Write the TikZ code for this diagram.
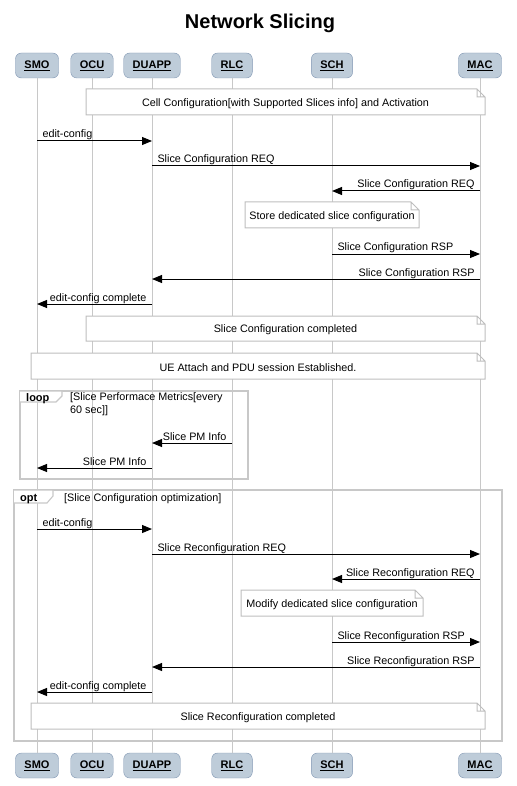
\documentclass[tikz,border=0pt]{standalone}
\usepackage{fontspec}
\setmainfont{Liberation Sans}
\usetikzlibrary{arrows.meta}
\definecolor{partfill}{RGB}{190,204,217}
\definecolor{partline}{RGB}{128,150,178}
\definecolor{lifegray}{RGB}{200,200,200}
\definecolor{notegray}{RGB}{190,190,190}
\tikzset{
  part/.style={draw=partline, fill=partfill, rounded corners=6pt, minimum height=25pt,
    inner xsep=9pt, font=\fontsize{11}{13}\selectfont\bfseries},
  msg/.style={line width=1pt, -{Triangle[length=10pt,width=8pt]}},
  lbl/.style={font=\fontsize{10.8}{13}\selectfont, inner sep=0pt},
  noteline/.style={draw=notegray, fill=white, line width=1pt},
  frameline/.style={draw=lifegray, line width=1.1pt}
}

\begin{document}
\begin{tikzpicture}[x=1pt,y=-1pt]
\useasboundingbox (0,0) rectangle (516,786);
\node[font=\fontsize{20}{24}\selectfont\bfseries] (title) at (260,23) {Network Slicing};
% participants and lifelines
\foreach \n/\t/\x in {smo/SMO/37, ocu/OCU/92, duapp/DUAPP/152, rlc/RLC/232, sch/SCH/332, mac/MAC/480}{
\node[part] (top\n) at (\x,65.5) {\underline{\t}};
\node[part] (bot\n) at (\x,765.5) {\underline{\t}};
\draw[lifegray, line width=1pt] (top\n) -- (bot\n);}
% notes
\foreach \n/\xa/\ya/\xb/\yb/\t in {
  note1/86/89/485/115/Cell Configuration[with Supported Slices info] and Activation,
  note2/245/202/419/228/Store dedicated slice configuration,
  note3/86/316/485/341/Slice Configuration completed,
  note4/31/353/485/379/UE Attach and PDU session Established.,
  note5/241/590/423/616/Modify dedicated slice configuration,
  note6/31/703/485/729/Slice Reconfiguration completed}{
\draw[noteline] (\xa,\ya) -- ({\xb-8},\ya) -- (\xb,{\ya+8}) -- (\xb,\yb) -- (\xa,\yb) -- cycle
  ({\xb-8},\ya) -- ({\xb-8},{\ya+8}) -- (\xb,{\ya+8});
\node[lbl] (\n) at ({(\xa+\xb)/2},{(\ya+\yb)/2+1.5}) {\t};}
% loop frame
\draw[frameline] (20,391) rectangle (248,479);
\draw[frameline, fill=white] (20,391) -- (62,391) -- (62,396) -- (56,402) -- (20,402);
\node[lbl, font=\fontsize{11}{13}\selectfont\bfseries, anchor=base west] (looptag) at (26,401) {loop};
\node[lbl, align=left, anchor=north west] (loopcond) at (70,392.5) {[Slice Performace Metrics[every\\60 sec]]};
% opt frame
\draw[frameline] (14,490) rectangle (502,741);
\draw[frameline, fill=white] (14,490) -- (53,490) -- (53,496) -- (47,503) -- (14,503);
\node[lbl, font=\fontsize{11}{13}\selectfont\bfseries, anchor=base west] (opttag) at (20,501) {opt};
\node[lbl, anchor=base west] (optcond) at (64,501) {[Slice Configuration optimization]};
% messages
\foreach \a/\b/\y/\t in {smo/duapp/141/edit-config, duapp/mac/166/Slice Configuration REQ,
  sch/mac/254/Slice Configuration RSP, smo/duapp/529/edit-config,
  duapp/mac/554/Slice Reconfiguration REQ, sch/mac/642/Slice Reconfiguration RSP}{
\draw[msg] (top\a |- 0,\y) -- (top\b |- 0,\y) node[lbl, pos=0, anchor=base west, xshift=5pt, yshift=3pt] (m\y) {\t};}
\foreach \a/\b/\y/\t in {mac/sch/191/Slice Configuration REQ, mac/duapp/279/Slice Configuration RSP,
  duapp/smo/304/edit-config complete, rlc/duapp/443/Slice PM Info, duapp/smo/468/Slice PM Info,
  mac/sch/579/Slice Reconfiguration REQ, mac/duapp/667/Slice Reconfiguration RSP,
  duapp/smo/692/edit-config complete}{
\draw[msg] (top\a |- 0,\y) -- (top\b |- 0,\y) node[lbl, pos=0, anchor=base east, xshift=-5pt, yshift=3pt] (m\y) {\t};}
\end{tikzpicture}
\end{document}
